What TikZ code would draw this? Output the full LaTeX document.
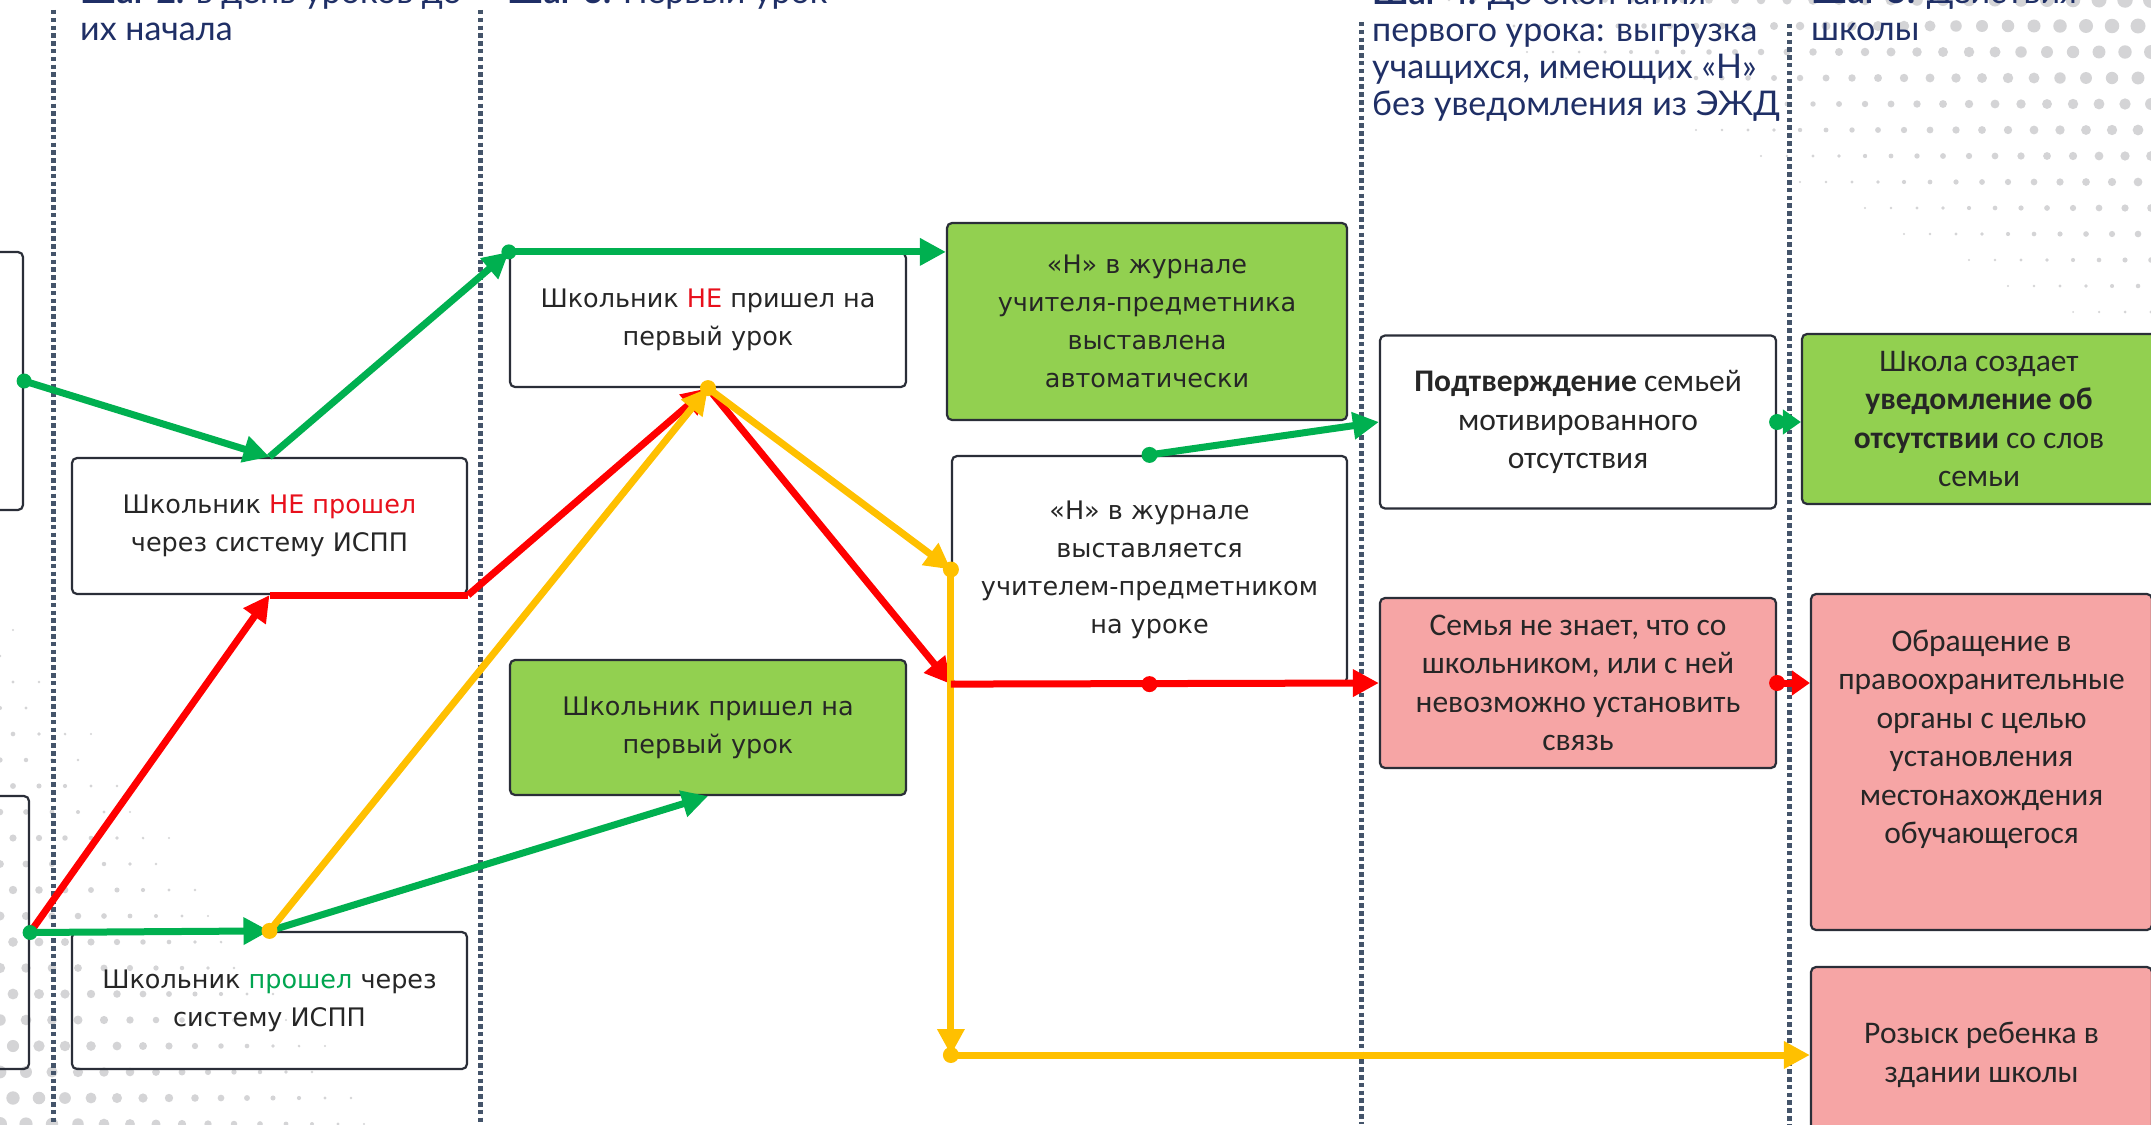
\documentclass[tikz,border=0pt]{standalone}
\usepackage{fontspec}
\setmainfont{DejaVu Sans}
\newfontfamily\calfont{Carlito}
\newfontfamily\hdrfont{Lato}
\usetikzlibrary{arrows.meta,calc}
\definecolor{gline}{HTML}{00B050}
\definecolor{rline}{HTML}{FF0000}
\definecolor{yline}{HTML}{FFC000}
\definecolor{gfill}{HTML}{92D050}
\definecolor{pfill}{HTML}{F6A5A5}
\definecolor{sepcol}{HTML}{44546A}
\definecolor{hdrcol}{HTML}{1F2F66}
\definecolor{txtcol}{HTML}{262626}
\definecolor{bordcol}{HTML}{2A2E38}
\definecolor{nered}{HTML}{E8101C}
\definecolor{okgreen}{HTML}{00A550}
\definecolor{dotfill}{HTML}{D4D4D6}
\tikzset{
  boxw/.style={draw=bordcol, line width=2.2pt, rounded corners=5pt, fill=white, inner sep=0pt, align=center, text=txtcol,
     font=\fontsize{25.5pt}{38pt}\selectfont},
  boxg/.style={boxw, fill=gfill},
  boxp/.style={boxw, fill=pfill},
  calib/.style={font=\calfont\fontsize{31.5pt}{38.5pt}\selectfont},
  sepline/.style={draw=sepcol, line width=5pt, dash pattern=on 4.5pt off 3.3pt},
  hdr/.style={anchor=base west, align=left, inner sep=0pt, text=hdrcol, font=\hdrfont\fontsize{34pt}{37pt}\selectfont},
  gcon/.style={draw=gline, line width=7pt, -{Triangle[length=26pt,width=26pt]}},
  rcon/.style={draw=rline, line width=7pt, -{Triangle[length=26pt,width=26pt]}},
  ycon/.style={draw=yline, line width=7pt, -{Triangle[length=26pt,width=26pt]}},
  shorttip/.style={-{Triangle[length=18pt,width=24pt]}},
}
\begin{document}
\begin{tikzpicture}[x=1pt,y=-1pt]
\useasboundingbox (0,0) rectangle (2151,1124);
\clip (0,0) rectangle (2151,1124);
\fill[white] (0,0) rectangle (2151,1124);
% halftone background
\foreach \i in {0,...,34}{\foreach \j in {0,...,14}{
  \pgfmathsetmacro\rr{8-0.0095*\i*26-0.02*\j*26}
  \ifdim \rr pt>1pt \fill[dotfill] ({2151-\i*26-13*mod(\j,2)},{\j*26}) circle[radius=\rr]; \fi
}}
\foreach \i in {0,...,18}{\foreach \j in {0,...,22}{
  \pgfmathsetmacro\rr{7-0.016*\i*26-0.012*\j*26}
  \ifdim \rr pt>1pt \fill[dotfill] ({\i*26+13*mod(\j,2)},{1124-\j*26}) circle[radius=\rr]; \fi
}}
% separators
\draw[sepline] (53,10) -- (53,1124);
\draw[sepline] (480,10) -- (480,1124);
\draw[sepline] (1361,22) -- (1361,1124);
\draw[sepline] (1789,24) -- (1789,1124);
% headers (anchor base = last line)
\node[hdr] (h2) at (80,41) {\textbf{Шаг 2.} в день уроков до\\их начала};
\node[hdr] (h3) at (507,4) {\textbf{Шаг 3.} Первый урок};
\node[hdr] (h4) at (1372,115) {\textbf{Шаг 4.} До окончания\\первого урока: выгрузка\\учащихся, имеющих «Н»\\без уведомления  из ЭЖД};
\node[hdr] (h5) at (1811,41) {\textbf{Шаг 5.} Действия\\школы};
% boxes
\node[boxw, minimum width=223pt, minimum height=258pt] (leftA) at (-88.5,381) {};
\node[boxw, fill=none, minimum width=229pt, minimum height=273pt] (leftB) at (-85.5,932.5) {};
\node[boxw, fill=none, minimum width=395pt, minimum height=136pt] (np) at (269.5,526) {Школьник \textcolor{nered}{НЕ прошел}\\через систему ИСПП};
\node[boxw, fill=none, minimum width=395pt, minimum height=137pt] (p) at (269.5,1000.5) {Школьник \textcolor{okgreen}{прошел} через\\систему ИСПП};
\node[boxw, minimum width=396pt, minimum height=134pt] (nprish) at (708,320) {Школьник \textcolor{nered}{НЕ} пришел на\\первый урок};
\node[boxg, minimum width=396pt, minimum height=135pt] (prish) at (708,727.5) {Школьник пришел на\\первый урок};
\node[boxg, minimum width=400pt, minimum height=197pt] (auto) at (1147,321.5) {«Н» в журнале\\учителя-предметника\\выставлена\\автоматически};
\node[boxw, minimum width=395pt, minimum height=227pt] (manual) at (1149.5,569.5) {«Н» в журнале\\выставляется\\учителем-предметником\\на уроке};
\node[boxw, calib, minimum width=396pt, minimum height=173pt] (confirm) at (1578,422) {\textbf{Подтверждение} семьей\\мотивированного\\отсутствия};
\node[boxp, calib, minimum width=396pt, minimum height=170pt] (unknown) at (1578,683) {Семья не знает, что со\\школьником, или с ней\\невозможно установить\\связь};
\node[boxg, calib, minimum width=354pt, minimum height=170pt] (notify) at (1979,419) {Школа создает\\\textbf{уведомление об}\\\textbf{отсутствии} со слов\\семьи};
\node[boxp, calib, minimum width=341pt, minimum height=336pt] (police) at (1981.5,762) {Обращение в\\правоохранительные\\органы с целью\\установления\\местонахождения\\обучающегося\\\strut};
\node[boxp, calib, minimum width=341pt, minimum height=176pt] (search) at (1981.5,1055) {Розыск ребенка в\\здании школы};
% connectors
\draw[gcon] (leftA.east) -- (np.north);
\fill[gline] (leftA.east) circle[radius=7.5];
\draw[gcon] (np.north) -- (nprish.north west);
\draw[gcon] (nprish.north west) -- (auto.west |- nprish.north west);
\fill[gline] (nprish.north west) circle[radius=7.5];
\draw[rcon] (leftB.east) -- (np.south);
\draw[gcon] (leftB.east) -- (p.north);
\fill[gline] (leftB.east) circle[radius=7.5];
\draw[rcon, -] (np.south) -- (np.south east);
\draw[rcon] (np.south east) -- (nprish.south);
\draw[gcon] (p.north) -- (prish.south);
\draw[ycon] (p.north) -- (nprish.south);
\fill[yline] (p.north) circle[radius=8];
\draw[rcon] (nprish.south) -- (manual.south west);
\draw[ycon] (nprish.south) -- (manual.west);
\fill[yline] (nprish.south) circle[radius=8];
\coordinate (ycorner) at (manual.west |- search.west);
\draw[ycon] (manual.west) -- (ycorner);
\fill[yline] (manual.west) circle[radius=8];
\draw[ycon] (ycorner) -- (search.west);
\fill[yline] (ycorner) circle[radius=8];
\draw[rcon] (manual.south west) -- (unknown.west);
\fill[rline] (manual.south) circle[radius=8];
\draw[gcon] (manual.north) -- (confirm.west);
\fill[gline] (manual.north) circle[radius=8];
\draw[gcon, shorttip] (confirm.east) -- (notify.west |- confirm.east);
\fill[gline] (confirm.east) circle[radius=8];
\draw[rcon, shorttip] (unknown.east) -- (police.west |- unknown.east);
\fill[rline] (unknown.east) circle[radius=8];
\end{tikzpicture}
\end{document}
